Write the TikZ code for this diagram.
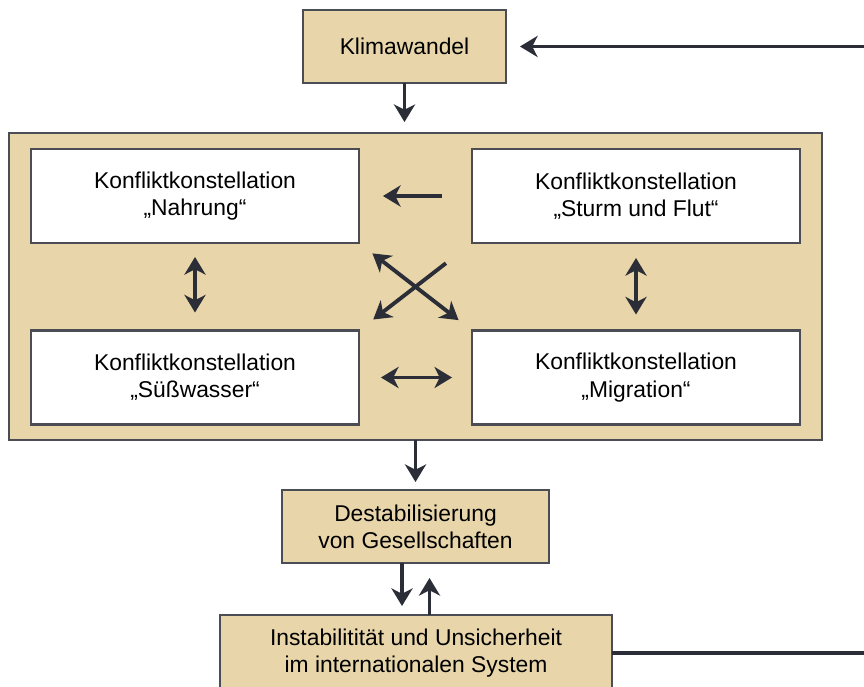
\documentclass[tikz,border=0pt]{standalone}
\usepackage{fontspec}
\setmainfont{Liberation Sans}
\usepackage{xcolor}
\usetikzlibrary{positioning,arrows.meta}

\definecolor{tan}{RGB}{232,214,170}
\definecolor{ink}{RGB}{43,46,54}

\begin{document}
\begin{tikzpicture}[x=0.02cm, y=-0.02cm,
    box/.style={draw=ink!85, line width=1.5pt, fill=tan, inner sep=0pt, outer sep=0pt, align=center,
        font=\fontsize{13}{15.5}\selectfont},
    konflikt/.style={box, fill=white, minimum width=6.56cm, minimum height=1.88cm},
    link/.style={draw=ink, line width=2.2pt, -{Stealth[length=10pt, width=12pt, inset=3pt]}},
    twoway/.style={link, {Stealth[length=10pt, width=12pt, inset=3pt]}-{Stealth[length=10pt, width=12pt, inset=3pt]}}]
\useasboundingbox (0,0) rectangle (864,686);

\node[box, minimum width=4.06cm, minimum height=1.46cm] (klima) at (404.5,46.5) {Klimawandel};
\node[box, minimum width=16.26cm, minimum height=6.14cm] (cont) at (415.5,286.5) {};

\node[konflikt] (nahrung) at (195,196) {Konfliktkonstellation\\„Nahrung“};
\node[konflikt] (sturm) at (636,196) {Konfliktkonstellation\\„Sturm und Flut“};
\node[konflikt] (suess) at (195,377.5) {Konfliktkonstellation\\„Süßwasser“};
\node[konflikt] (migr) at (636,377.5) {Konfliktkonstellation\\„Migration“};

\node[box, minimum width=5.34cm, minimum height=1.46cm] (destab) at (415.5,526.5) {Destabilisierung\\von Gesellschaften};
\node[box, minimum width=7.84cm, minimum height=1.52cm] (instab) at (416,653) {Instabilitität und Unsicherheit\\im internationalen System};

% arrows inside the frame
\draw[link, shorten <=0.60cm, shorten >=0.48cm] (sturm.west) -- (nahrung.east);
\draw[twoway, shorten <=0.28cm, shorten >=0.36cm] (nahrung.south) -- (suess.north);
\draw[twoway, shorten <=0.30cm, shorten >=0.32cm] (sturm.south) -- (migr.north);
\draw[twoway, shorten <=0.34cm, shorten >=0.34cm] (nahrung.south east) -- (migr.north west);
\draw[link, shorten <=0.66cm, shorten >=0.36cm] (sturm.south west) -- (suess.north east);
\draw[twoway, shorten <=0.44cm, shorten >=0.40cm] (suess.east) -- (migr.west);

% main chain
\draw[link, shorten >=0.22cm] (klima.south) -- (klima.south |- cont.north);
\draw[link, shorten >=0.16cm] (cont.south) -- (destab.north);
\draw[link, shorten >=0.18cm] ([xshift=-0.27cm]destab.south) -- ([xshift=-0.27cm]destab.south |- instab.north);
\draw[link, shorten >=0.30cm] ([xshift=0.27cm]instab.north) -- ([xshift=0.27cm]instab.north |- destab.south);

% feedback loop
\draw[link, shorten >=0.28cm] (instab.east) -- (890,653) -- (890,46.5) -- (klima.east);
\end{tikzpicture}
\end{document}
